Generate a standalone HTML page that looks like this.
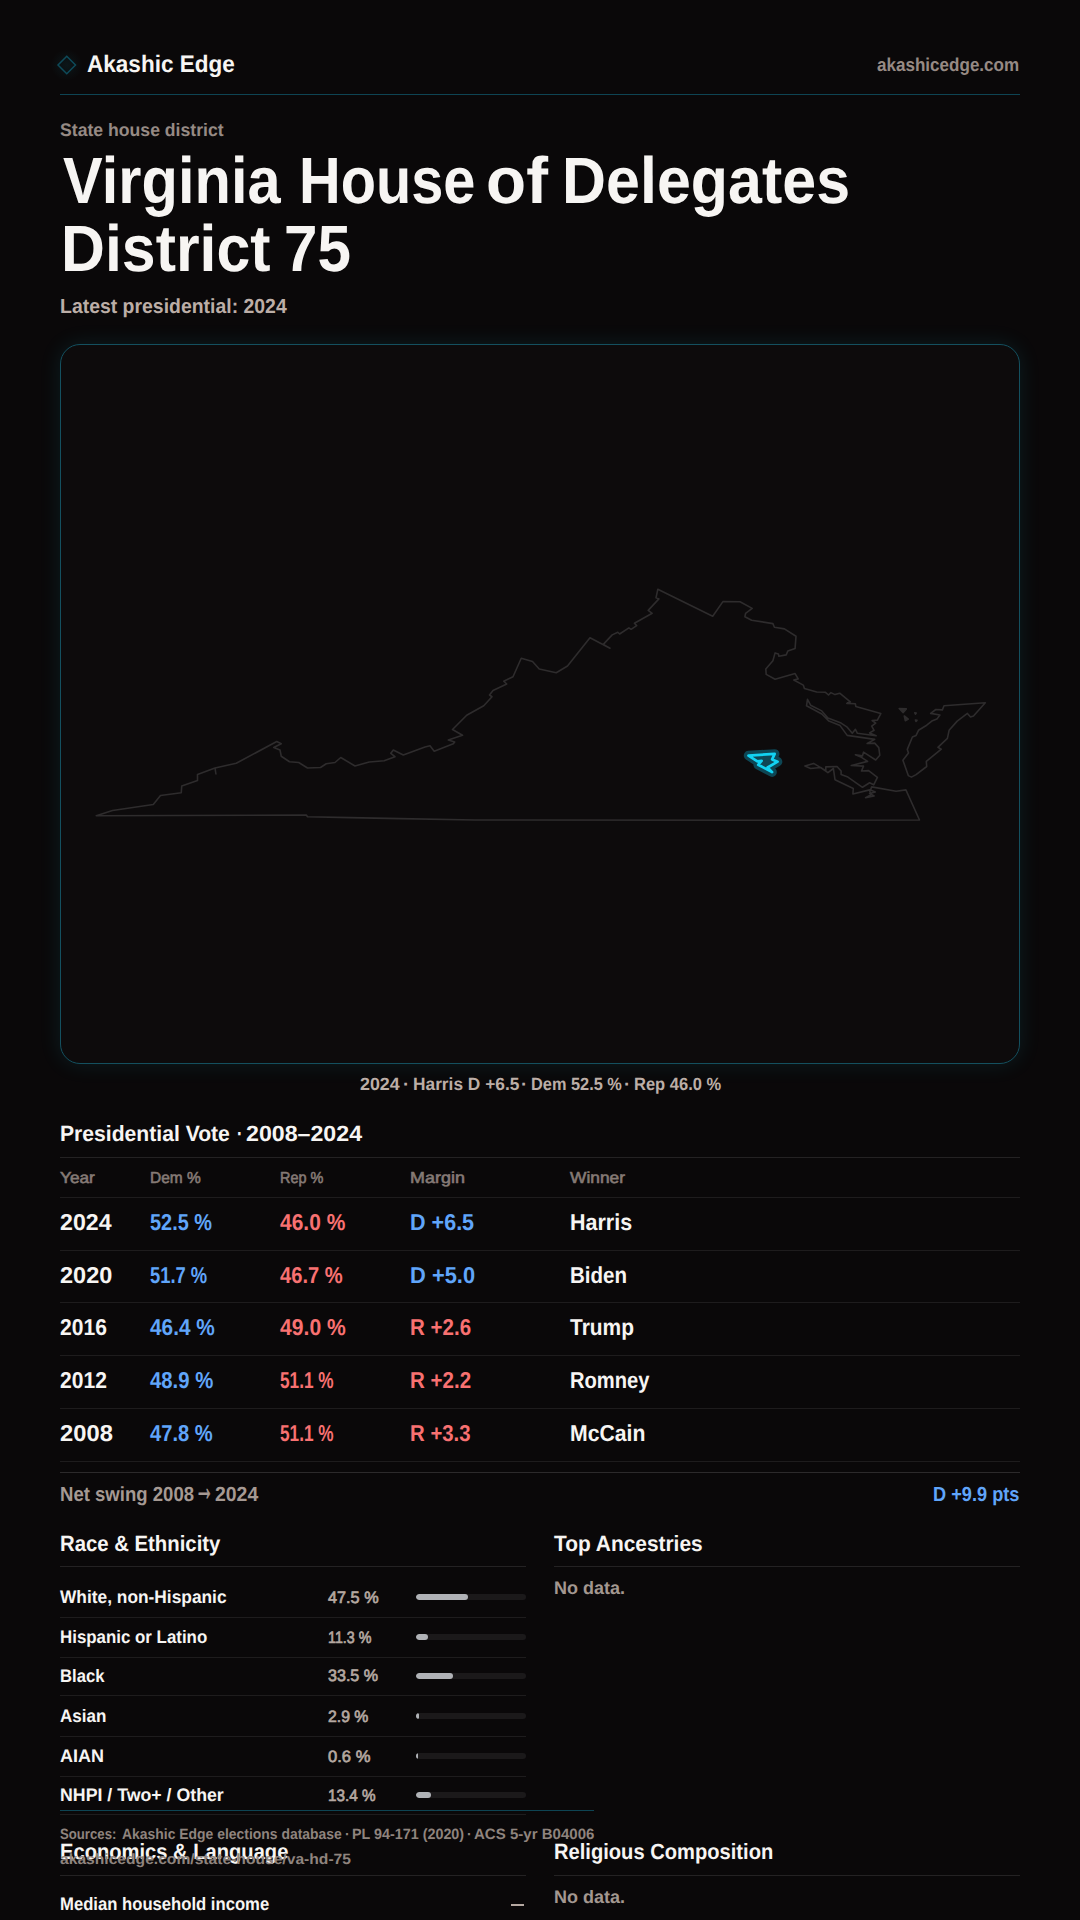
<!DOCTYPE html>
<html lang="en"><head><meta charset="utf-8"><title>Virginia House of Delegates District 75</title>
<style>
html,body{margin:0;padding:0}
body{width:1080px;height:1920px;background:#0a0809;position:relative;overflow:hidden;font-family:"Liberation Sans",sans-serif}
.t{position:absolute;white-space:nowrap;line-height:1;transform-origin:0 0}
.l{position:absolute}
.map{position:absolute;left:60px;top:344px;width:958px;height:718px;border:1px solid #14505f;border-radius:20px;background:#0d0b0c;box-shadow:0 0 22px rgba(34,211,238,0.11)}
.bt{position:absolute;left:416px;width:110px;height:6px;border-radius:3px;background:#1b191a;overflow:hidden}
.bt i{display:block;height:6px;border-radius:3px;background:#b0b2b6}
svg{position:absolute;left:0;top:0}
</style></head><body>
<div class="map"></div>
<svg width="1080" height="1920" viewBox="0 0 1080 1920">
<g fill="none" stroke="#2e2c2d" stroke-width="1.6" stroke-linejoin="round">
<polygon points="96.25,815.75 112.5,810.5 153.25,804.5 160.5,795.5 181.25,792.75 181.75,786 197.5,780.5 197.5,774.5 215,768 236.25,763.25 276.75,741.5 281.25,743.75 273.75,747.5 280,750 281.25,756.25 289.5,761.75 298.75,762.5 307.5,768 320.5,767.5 326.25,763.75 335,762.5 340.75,757.5 355,766 369.2,762 384.2,760.8 395,756.7 390.8,753.3 393.3,750 403.3,755 425,747 430,745.8 434.2,751.2 453.3,743.7 454.7,742 448.3,740 462.5,735.3 452.5,729.5 466.7,715.2 483.75,705.75 492,696.75 489.5,695 493,690.5 506.75,684 503.75,681.25 513,676.75 521.25,658.25 532.5,661.5 539.25,669 556.25,672.75 567.5,666 590,637.8 610,648.2 603.3,644.4 612.2,634.9 617.8,632.2 619.6,634 628.9,627.8 631.1,629.3 636.7,625.6 634.4,623.3 652.2,613.3 648.2,610.4 658.9,598.9 656,597.8 657.8,589.3 712.7,616.2 722.9,601.6 740,601.8 752.2,608.4 745.6,613.3 744.9,616.7 751.6,620.2 772.9,623.6 774.4,627.3 784.4,628.9 796,636.2 795.1,648.4 787.8,651.1 786.2,654.9 778.9,656.2 778.4,654 775.1,652.9 772.9,660.7 765.8,668.9 766.2,674.4 775.1,679.3 795.1,673.6 798.2,678.9 793.8,680 803.3,685.1 804.4,688.5 816.7,692 825.2,692.2 828.5,695 830.9,692.6 835,694.6 839.7,693.2 850.3,701.8 846.8,703.4 855.4,703.8 855.8,706.4 880.8,713.6 877.4,720.1 872.1,720.5 875.7,723.1 871.7,726.2 874.1,730.3 869.6,732.9 876.1,735.8 857.4,733.3 855.4,729.3 852.3,733.3 847.2,727.2 841.1,723.1 827.9,718.1 821.8,710.9 810.6,705.2 807.5,699.3 806.5,705.8 821.8,714 828.9,721.1 840.1,725.6 847.2,735.4 874.7,739.4 867.2,743.5 874.7,743.1 878.8,747.6 879.8,755.3 875.7,760 863.5,752.2 862.5,755.9 855.4,754.7 861.5,757.3 867.6,761.4 851.3,765.5 863.5,766.1 861.5,771 868.6,770.6 877.4,777.3 873.7,784.8 869.6,782.8 862.5,787.3 847.2,776.7 841.1,774.6 841.1,771 837,766.5 825.8,766.9 825.8,770.6 813.6,763.4 804.9,766.1 810.6,768.5 820.7,767.5 827.9,772.6 833.4,768.5 835,779.7 853.3,788.5 852.9,794 869.6,789.9 870.6,795 865.6,797.6 874.1,796 869.6,793.4 875.3,791.9 870.6,789.9 871.7,786.9 896.1,791.3 905.9,789.9 919.5,820 780,820.2 475,820 400,818.6 350,817.6 307.5,816.75 306.25,815"/>
<polygon points="985.3,702.8 944,705.8 942.4,709.9 935.8,709.5 930.7,713.4 939.9,715 936.9,719.1 931.8,721.1 926.7,725.2 918.5,730.3 916.1,735.4 912.4,737 907.3,749.4 908.5,753 902.9,760.2 908.3,775.6 911.4,777.1 916.1,774.6 926.7,766.5 926.3,761.4 941.3,749.2 937.9,747.3 947.4,738.4 949.1,730.3 957.2,721.1 967.4,713.4 970.5,717 973.5,716"/>
<path d="M215,768 L216,774.5"/>
<polygon points="899.2,708.5 906.3,708.9 903.2,712.6" fill="#2e2c2d"/>
<polygon points="904.3,716 908.3,719.1 905.3,720.7" fill="#2e2c2d"/>
<polygon points="914.8,712.8 916.2,713 915.5,714.2" fill="#2e2c2d"/>
<polygon points="915.4,720 917,720.4 916,721.4" fill="#2e2c2d"/>
</g>
<polygon points="748.5,755.6 774.7,753.9 772.1,759.4 777.6,761.7 767.6,767.5 772.1,772.1 758.2,764.8 761.6,760.8 757.4,761.3" fill="none" stroke="#0d4654" stroke-width="9.5" stroke-linejoin="round"/>
<polygon points="748.5,755.6 774.7,753.9 772.1,759.4 777.6,761.7 767.6,767.5 772.1,772.1 758.2,764.8 761.6,760.8 757.4,761.3" fill="#0f4756" stroke="#12d2f2" stroke-width="2.7" stroke-linejoin="round"/>
<defs><radialGradient id="lg"><stop offset="0" stop-color="#22d3ee" stop-opacity="0.07"/><stop offset="1" stop-color="#22d3ee" stop-opacity="0"/></radialGradient></defs><circle cx="66.75" cy="65" r="16" fill="url(#lg)"/>
<g><polygon points="66.75,56.2 75.5,65 66.75,73.8 58,65" fill="none" stroke="#0e4a59" stroke-width="1.5"/></g>
</svg>
<div class="l" style="left:60px;top:93.5px;width:960px;height:1px;background:#0e4453"></div>
<div class="l" style="left:60px;top:1156.8px;width:960px;height:1px;background:#242223"></div>
<div class="l" style="left:60px;top:1197.0px;width:960px;height:1px;background:#1e1c1d"></div>
<div class="l" style="left:60px;top:1249.5px;width:960px;height:1px;background:#1e1c1d"></div>
<div class="l" style="left:60px;top:1302.0px;width:960px;height:1px;background:#1e1c1d"></div>
<div class="l" style="left:60px;top:1355.0px;width:960px;height:1px;background:#1e1c1d"></div>
<div class="l" style="left:60px;top:1408.0px;width:960px;height:1px;background:#1e1c1d"></div>
<div class="l" style="left:60px;top:1461.0px;width:960px;height:1px;background:#1e1c1d"></div>
<div class="l" style="left:60px;top:1472.0px;width:960px;height:1px;background:#2c2a2b"></div>
<div class="l" style="left:60px;top:1566.2px;width:466px;height:1px;background:#242223"></div>
<div class="l" style="left:554px;top:1566.2px;width:466px;height:1px;background:#242223"></div>
<div class="l" style="left:60px;top:1874.8px;width:466px;height:1px;background:#242223"></div>
<div class="l" style="left:554px;top:1874.8px;width:466px;height:1px;background:#242223"></div>
<div class="l" style="left:60px;top:1616.5px;width:466px;height:1px;background:#1e1c1d"></div>
<div class="l" style="left:60px;top:1656.5px;width:466px;height:1px;background:#1e1c1d"></div>
<div class="l" style="left:60px;top:1695.0px;width:466px;height:1px;background:#1e1c1d"></div>
<div class="l" style="left:60px;top:1736.0px;width:466px;height:1px;background:#1e1c1d"></div>
<div class="l" style="left:60px;top:1776.0px;width:466px;height:1px;background:#1e1c1d"></div>
<div class="l" style="left:60px;top:1813.8px;width:466px;height:1px;background:#1e1c1d"></div>
<div class="l" style="left:60px;top:1810.2px;width:534px;height:1px;background:#0e4453"></div>
<div class="bt" style="top:1593.9px"><i style="width:52.3px"></i></div>
<div class="bt" style="top:1633.9px"><i style="width:12.4px"></i></div>
<div class="bt" style="top:1672.6px"><i style="width:36.9px"></i></div>
<div class="bt" style="top:1713.1px"><i style="width:3.2px"></i></div>
<div class="bt" style="top:1753.1px"><i style="width:1.5px"></i></div>
<div class="bt" style="top:1792.3px"><i style="width:14.7px"></i></div>
<div class="t" style="left:86.5px;top:52px;font-size:23.9px;color:#f7f5f3;transform:scaleX(0.9436) skewX(0.05deg);font-weight:700;">Akashic Edge</div>
<div class="t" style="left:877.3px;top:56px;font-size:18.6px;color:#968a84;transform:scaleX(0.9169) skewX(0.05deg);font-weight:700;">akashicedge.com</div>
<div class="t" style="left:60.0px;top:121px;font-size:18.1px;color:#968a84;transform:scaleX(0.9744) skewX(0.05deg);font-weight:700;">State house district</div>
<div class="t" style="left:62.5px;top:148px;font-size:65.5px;color:#f7f5f3;transform:scaleX(0.9104) skewX(0.05deg);font-weight:700;">Virginia</div>
<div class="t" style="left:299.1px;top:148px;font-size:65.5px;color:#f7f5f3;transform:scaleX(0.8814) skewX(0.05deg);font-weight:700;">House</div>
<div class="t" style="left:486.1px;top:148px;font-size:65.5px;color:#f7f5f3;transform:scaleX(1.0017) skewX(0.05deg);font-weight:700;">of</div>
<div class="t" style="left:561.5px;top:148px;font-size:65.5px;color:#f7f5f3;transform:scaleX(0.9307) skewX(0.05deg);font-weight:700;">Delegates</div>
<div class="t" style="left:60.7px;top:216px;font-size:65.5px;color:#f7f5f3;transform:scaleX(0.9285) skewX(0.05deg);font-weight:700;">District</div>
<div class="t" style="left:284.3px;top:216px;font-size:65.5px;color:#f7f5f3;transform:scaleX(0.9203) skewX(0.05deg);font-weight:700;">75</div>
<div class="t" style="left:60.0px;top:296px;font-size:20.4px;color:#bcaea7;transform:scaleX(0.9525) skewX(0.05deg);font-weight:700;">Latest presidential: 2024</div>
<div class="t" style="left:359.7px;top:1076px;font-size:17.7px;color:#bcaea7;transform:scaleX(1.0075) skewX(0.05deg);font-weight:700;">2024</div>
<div class="t" style="left:403.4px;top:1076px;font-size:17.7px;color:#bcaea7;transform:scaleX(1.0667) skewX(0.05deg);font-weight:700;">·</div>
<div class="t" style="left:412.5px;top:1076px;font-size:17.7px;color:#bcaea7;transform:scaleX(0.9785) skewX(0.05deg);font-weight:700;">Harris D +6.5</div>
<div class="t" style="left:521.3px;top:1076px;font-size:17.7px;color:#bcaea7;transform:scaleX(1.0667) skewX(0.05deg);font-weight:700;">·</div>
<div class="t" style="left:530.5px;top:1076px;font-size:17.7px;color:#bcaea7;transform:scaleX(0.9237) skewX(0.05deg);font-weight:700;">Dem 52.5 %</div>
<div class="t" style="left:624.3px;top:1076px;font-size:17.7px;color:#bcaea7;transform:scaleX(1.0667) skewX(0.05deg);font-weight:700;">·</div>
<div class="t" style="left:633.6px;top:1076px;font-size:17.7px;color:#bcaea7;transform:scaleX(0.9337) skewX(0.05deg);font-weight:700;">Rep 46.0 %</div>
<div class="t" style="left:60.0px;top:1123px;font-size:22.0px;color:#f7f5f3;transform:scaleX(0.9602) skewX(0.05deg);font-weight:700;">Presidential Vote</div>
<div class="t" style="left:236.8px;top:1123px;font-size:22.0px;color:#f7f5f3;transform:scaleX(0.7500) skewX(0.05deg);font-weight:700;">·</div>
<div class="t" style="left:245.5px;top:1123px;font-size:22.0px;color:#f7f5f3;transform:scaleX(1.0536) skewX(0.05deg);font-weight:700;">2008–2024</div>
<div class="t" style="left:60.0px;top:1170px;font-size:15.9px;color:#857a75;transform:scaleX(1.0844) skewX(0.05deg);-webkit-text-stroke:0.6px #857a75;">Year</div>
<div class="t" style="left:150.0px;top:1170px;font-size:15.9px;color:#857a75;transform:scaleX(0.9750) skewX(0.05deg);-webkit-text-stroke:0.6px #857a75;">Dem %</div>
<div class="t" style="left:280.0px;top:1170px;font-size:15.9px;color:#857a75;transform:scaleX(0.9104) skewX(0.05deg);-webkit-text-stroke:0.6px #857a75;">Rep %</div>
<div class="t" style="left:410.0px;top:1170px;font-size:15.9px;color:#857a75;transform:scaleX(1.1292) skewX(0.05deg);-webkit-text-stroke:0.6px #857a75;">Margin</div>
<div class="t" style="left:570.0px;top:1170px;font-size:15.9px;color:#857a75;transform:scaleX(1.0922) skewX(0.05deg);-webkit-text-stroke:0.6px #857a75;">Winner</div>
<div class="t" style="left:60.0px;top:1211px;font-size:23.0px;color:#f7f5f3;transform:scaleX(1.0078) skewX(0.05deg);font-weight:700;">2024</div>
<div class="t" style="left:150.0px;top:1211px;font-size:23.0px;color:#60a5fa;transform:scaleX(0.8648) skewX(0.05deg);font-weight:700;">52.5 %</div>
<div class="t" style="left:280.0px;top:1211px;font-size:23.0px;color:#f87171;transform:scaleX(0.9113) skewX(0.05deg);font-weight:700;">46.0 %</div>
<div class="t" style="left:410.0px;top:1211px;font-size:23.0px;color:#60a5fa;transform:scaleX(0.9368) skewX(0.05deg);font-weight:700;">D +6.5</div>
<div class="t" style="left:570.0px;top:1211px;font-size:23.0px;color:#f7f5f3;transform:scaleX(0.9348) skewX(0.05deg);font-weight:700;">Harris</div>
<div class="t" style="left:60.0px;top:1264px;font-size:23.0px;color:#f7f5f3;transform:scaleX(1.0235) skewX(0.05deg);font-weight:700;">2020</div>
<div class="t" style="left:150.0px;top:1264px;font-size:23.0px;color:#60a5fa;transform:scaleX(0.7986) skewX(0.05deg);font-weight:700;">51.7 %</div>
<div class="t" style="left:280.0px;top:1264px;font-size:23.0px;color:#f87171;transform:scaleX(0.8761) skewX(0.05deg);font-weight:700;">46.7 %</div>
<div class="t" style="left:410.0px;top:1264px;font-size:23.0px;color:#60a5fa;transform:scaleX(0.9515) skewX(0.05deg);font-weight:700;">D +5.0</div>
<div class="t" style="left:570.0px;top:1264px;font-size:23.0px;color:#f7f5f3;transform:scaleX(0.8921) skewX(0.05deg);font-weight:700;">Biden</div>
<div class="t" style="left:60.0px;top:1316px;font-size:23.0px;color:#f7f5f3;transform:scaleX(0.9157) skewX(0.05deg);font-weight:700;">2016</div>
<div class="t" style="left:150.0px;top:1316px;font-size:23.0px;color:#60a5fa;transform:scaleX(0.9042) skewX(0.05deg);font-weight:700;">46.4 %</div>
<div class="t" style="left:280.0px;top:1316px;font-size:23.0px;color:#f87171;transform:scaleX(0.9183) skewX(0.05deg);font-weight:700;">49.0 %</div>
<div class="t" style="left:410.0px;top:1316px;font-size:23.0px;color:#f87171;transform:scaleX(0.8926) skewX(0.05deg);font-weight:700;">R +2.6</div>
<div class="t" style="left:570.0px;top:1316px;font-size:23.0px;color:#f7f5f3;transform:scaleX(0.9100) skewX(0.05deg);font-weight:700;">Trump</div>
<div class="t" style="left:60.0px;top:1369px;font-size:23.0px;color:#f7f5f3;transform:scaleX(0.9157) skewX(0.05deg);font-weight:700;">2012</div>
<div class="t" style="left:150.0px;top:1369px;font-size:23.0px;color:#60a5fa;transform:scaleX(0.8831) skewX(0.05deg);font-weight:700;">48.9 %</div>
<div class="t" style="left:280.0px;top:1369px;font-size:23.0px;color:#f87171;transform:scaleX(0.7493) skewX(0.05deg);font-weight:700;">51.1 %</div>
<div class="t" style="left:410.0px;top:1369px;font-size:23.0px;color:#f87171;transform:scaleX(0.8926) skewX(0.05deg);font-weight:700;">R +2.2</div>
<div class="t" style="left:570.0px;top:1369px;font-size:23.0px;color:#f7f5f3;transform:scaleX(0.8758) skewX(0.05deg);font-weight:700;">Romney</div>
<div class="t" style="left:60.0px;top:1422px;font-size:23.0px;color:#f7f5f3;transform:scaleX(1.0333) skewX(0.05deg);font-weight:700;">2008</div>
<div class="t" style="left:150.0px;top:1422px;font-size:23.0px;color:#60a5fa;transform:scaleX(0.8761) skewX(0.05deg);font-weight:700;">47.8 %</div>
<div class="t" style="left:280.0px;top:1422px;font-size:23.0px;color:#f87171;transform:scaleX(0.7493) skewX(0.05deg);font-weight:700;">51.1 %</div>
<div class="t" style="left:410.0px;top:1422px;font-size:23.0px;color:#f87171;transform:scaleX(0.8853) skewX(0.05deg);font-weight:700;">R +3.3</div>
<div class="t" style="left:570.0px;top:1422px;font-size:23.0px;color:#f7f5f3;transform:scaleX(0.9222) skewX(0.05deg);font-weight:700;">McCain</div>
<div class="t" style="left:60.0px;top:1484px;font-size:20.4px;color:#a59993;transform:scaleX(0.9095) skewX(0.05deg);font-weight:700;">Net swing 2008</div>
<div class="t" style="left:214.7px;top:1484px;font-size:20.4px;color:#a59993;transform:scaleX(0.9522) skewX(0.05deg);font-weight:700;">2024</div>
<div class="t" style="left:194.9px;top:1469px;font-size:37.8px;color:#a59993;transform:scaleX(0.4917) skewX(0.05deg);font-weight:700;-webkit-text-stroke:0.9px #a59993;">→</div>
<div class="t" style="left:933.1px;top:1484px;font-size:20.4px;color:#60a5fa;transform:scaleX(0.8916) skewX(0.05deg);font-weight:700;">D +9.9 pts</div>
<div class="t" style="left:60.0px;top:1533px;font-size:22.0px;color:#f7f5f3;transform:scaleX(0.9236) skewX(0.05deg);font-weight:700;">Race &amp; Ethnicity</div>
<div class="t" style="left:554.0px;top:1533px;font-size:22.0px;color:#f7f5f3;transform:scaleX(0.9500) skewX(0.05deg);font-weight:700;">Top Ancestries</div>
<div class="t" style="left:60.0px;top:1841px;font-size:22.0px;color:#f7f5f3;transform:scaleX(0.9157) skewX(0.05deg);font-weight:700;">Economics &amp; Language</div>
<div class="t" style="left:554.0px;top:1841px;font-size:22.0px;color:#f7f5f3;transform:scaleX(0.9151) skewX(0.05deg);font-weight:700;">Religious Composition</div>
<div class="t" style="left:554.0px;top:1579px;font-size:18.1px;color:#a39790;transform:scaleX(0.9957) skewX(0.05deg);font-weight:700;">No data.</div>
<div class="t" style="left:554.0px;top:1888px;font-size:18.1px;color:#a39790;transform:scaleX(0.9957) skewX(0.05deg);font-weight:700;">No data.</div>
<div class="t" style="left:60.0px;top:1588px;font-size:18.1px;color:#f7f5f3;transform:scaleX(0.9578) skewX(0.05deg);font-weight:700;">White, non-Hispanic</div>
<div class="t" style="left:328.0px;top:1589px;font-size:16.5px;color:#b5a8a1;transform:scaleX(0.9843) skewX(0.05deg);-webkit-text-stroke:0.7px #b5a8a1;">47.5 %</div>
<div class="t" style="left:60.0px;top:1628px;font-size:18.1px;color:#f7f5f3;transform:scaleX(0.9325) skewX(0.05deg);font-weight:700;">Hispanic or Latino</div>
<div class="t" style="left:328.0px;top:1629px;font-size:16.5px;color:#b5a8a1;transform:scaleX(0.8640) skewX(0.05deg);-webkit-text-stroke:0.7px #b5a8a1;">11.3 %</div>
<div class="t" style="left:60.0px;top:1667px;font-size:18.1px;color:#f7f5f3;transform:scaleX(0.9208) skewX(0.05deg);font-weight:700;">Black</div>
<div class="t" style="left:328.0px;top:1667px;font-size:16.5px;color:#b5a8a1;transform:scaleX(0.9745) skewX(0.05deg);-webkit-text-stroke:0.7px #b5a8a1;">33.5 %</div>
<div class="t" style="left:60.0px;top:1707px;font-size:18.1px;color:#f7f5f3;transform:scaleX(0.9417) skewX(0.05deg);font-weight:700;">Asian</div>
<div class="t" style="left:328.0px;top:1708px;font-size:16.5px;color:#b5a8a1;transform:scaleX(0.9571) skewX(0.05deg);-webkit-text-stroke:0.7px #b5a8a1;">2.9 %</div>
<div class="t" style="left:60.0px;top:1747px;font-size:18.1px;color:#f7f5f3;transform:scaleX(0.9930) skewX(0.05deg);font-weight:700;">AIAN</div>
<div class="t" style="left:328.0px;top:1748px;font-size:16.5px;color:#b5a8a1;transform:scaleX(1.0048) skewX(0.05deg);-webkit-text-stroke:0.7px #b5a8a1;">0.6 %</div>
<div class="t" style="left:60.0px;top:1786px;font-size:18.1px;color:#f7f5f3;transform:scaleX(0.9802) skewX(0.05deg);font-weight:700;">NHPI / Two+ / Other</div>
<div class="t" style="left:328.0px;top:1787px;font-size:16.5px;color:#b5a8a1;transform:scaleX(0.9255) skewX(0.05deg);-webkit-text-stroke:0.7px #b5a8a1;">13.4 %</div>
<div class="t" style="left:60.0px;top:1895px;font-size:18.1px;color:#f7f5f3;transform:scaleX(0.9207) skewX(0.05deg);font-weight:700;">Median household income</div>
<div class="t" style="left:60.0px;top:1827px;font-size:14.9px;color:#8f847e;transform:scaleX(0.8841) skewX(0.05deg);font-weight:700;">Sources:</div>
<div class="t" style="left:122.0px;top:1827px;font-size:14.9px;color:#8f847e;transform:scaleX(0.9349) skewX(0.05deg);font-weight:700;">Akashic Edge elections database</div>
<div class="t" style="left:344.9px;top:1827px;font-size:14.9px;color:#8f847e;transform:scaleX(0.9500) skewX(0.05deg);font-weight:700;">·</div>
<div class="t" style="left:351.5px;top:1827px;font-size:14.9px;color:#8f847e;transform:scaleX(0.9626) skewX(0.05deg);font-weight:700;">PL 94-171 (2020)</div>
<div class="t" style="left:466.9px;top:1827px;font-size:14.9px;color:#8f847e;transform:scaleX(0.9500) skewX(0.05deg);font-weight:700;">·</div>
<div class="t" style="left:473.5px;top:1827px;font-size:14.9px;color:#8f847e;transform:scaleX(1.0101) skewX(0.05deg);font-weight:700;">ACS 5-yr B04006</div>
<div class="t" style="left:60.0px;top:1852px;font-size:14.9px;color:#8f847e;transform:scaleX(1.0495) skewX(0.05deg);font-weight:700;">akashicedge.com/state-house/va-hd-75</div>
<div class="l" style="left:511px;top:1904px;width:13px;height:2px;background:#b5a8a1"></div>
</body></html>
